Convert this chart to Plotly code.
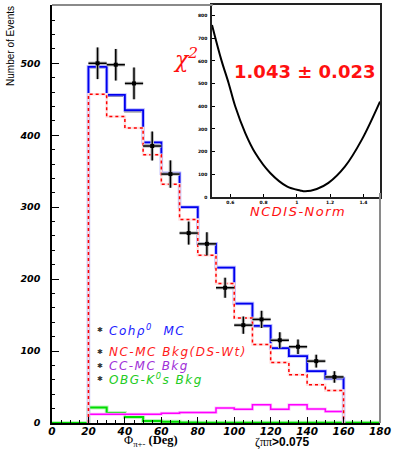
import plotly.graph_objects as go

# ---------------- data ----------------
bin_edges = [20, 30, 40, 50, 60, 70, 80, 90, 100, 110, 120, 130, 140, 150, 160]
bin_centers = [25, 35, 45, 55, 65, 75, 85, 95, 105, 115, 125, 135, 145, 155]
bin_halfwidth = [5] * 14

data_counts = [500, 498, 472, 385, 346, 264, 249, 188, 136, 144, 115, 106, 86, 64]
data_errors = [22, 22, 22, 20, 19, 16, 16, 14, 12, 12, 11, 10, 9, 8]

coh_total = [495, 456, 435, 390, 347, 300, 249, 216, 166, 135, 104, 93, 72, 62]
mc_sum = [494, 454, 433, 388, 346, 299, 249, 215, 166, 134, 104, 93, 72, 62]
nc_bkg = [457, 426, 410, 373, 332, 283, 233, 194, 146, 109, 84, 67, 53, 45]
cc_bkg = [12, 12, 12, 12, 13.5, 14.5, 14.5, 21, 19, 25.5, 19, 25.5, 19.5, 16]

green_edges = [0, 10, 20, 30, 40, 50, 60, 70, 80, 90, 100, 110, 120, 130, 140, 150, 160, 170, 180]
obg_bkg = [0, 0, 21.5, 14, 8.4, 2.8, 1.6, 0.8, 0.5, 0.5, 0.5, 0.5, 0.5, 0.5, 0.5, 0.5, 0.3, 0.3]

chi2_x = [0.49, 0.546, 0.59, 0.63, 0.69, 0.75, 0.84, 0.94, 1.02, 1.05, 1.12, 1.19, 1.29, 1.39, 1.5]
chi2_y = [759, 605, 502, 399, 282, 194, 106, 47, 29, 25, 35, 62, 135, 252, 421]

y_ticks = [0, 100, 200, 300, 400, 500]
x_ticks = [0, 20, 40, 60, 80, 100, 120, 140, 160, 180]
inset_x_ticks = [0.6, 0.8, 1.0, 1.2, 1.4]
inset_x_labels = ["0.6", "0.8", "1", "1.2", "1.4"]
inset_y_ticks = [0, 100, 200, 300, 400, 500, 600, 700, 800]


def step(edges, vals):
    xs = [edges[0]] + list(edges[:-1]) + [edges[-1]]
    ys = [0] + list(vals) + [0]
    return xs, ys


fig = go.Figure()


def hist(edges, vals, color, width, dash="solid", halo=None, halo_w=0):
    xs, ys = step(edges, vals)
    if halo:
        fig.add_trace(go.Scatter(x=xs, y=ys, mode="lines", line_shape="hv",
                                 line=dict(color=halo, width=halo_w),
                                 showlegend=False, hoverinfo="skip"))
    fig.add_trace(go.Scatter(x=xs, y=ys, mode="lines", line_shape="hv",
                             line=dict(color=color, width=width, dash=dash),
                             showlegend=False))


hist(green_edges, obg_bkg, "#00dd00", 2, halo="#bff5bf", halo_w=4)
hist(bin_edges, cc_bkg, "#ff00ff", 1.5, halo="#ffc4ff", halo_w=3)
hist(bin_edges, mc_sum, "#000000", 1.5)
hist(bin_edges, coh_total, "#0000ee", 1.8, halo="#b8b8ff", halo_w=3.5)
hist(bin_edges, nc_bkg, "#ff0000", 1.5, dash="dot", halo="#ffe0e0", halo_w=2.5)

# data points with error bars (halo + core)
fig.add_trace(go.Scatter(
    x=bin_centers, y=data_counts, mode="markers",
    marker=dict(size=1, color="rgba(0,0,0,0)"),
    error_x=dict(type="data", array=bin_halfwidth, color="#c0c0c0", thickness=3.5, width=0),
    error_y=dict(type="data", array=data_errors, color="#c0c0c0", thickness=3.5, width=0),
    showlegend=False, hoverinfo="skip"))
fig.add_trace(go.Scatter(
    x=bin_centers, y=data_counts, mode="markers",
    marker=dict(size=4, color="black", symbol="square"),
    error_x=dict(type="data", array=bin_halfwidth, color="black", thickness=1.5, width=0),
    error_y=dict(type="data", array=data_errors, color="black", thickness=1.5, width=0),
    showlegend=False))

# inset chi2 curve
fig.add_trace(go.Scatter(x=chi2_x, y=chi2_y, mode="lines", line_shape="spline",
                         line=dict(color="black", width=2), xaxis="x2", yaxis="y2",
                         showlegend=False))

tickfont_main_x = dict(family="DejaVu Sans", size=10.5, color="black", weight="bold", style="italic")
tickfont_main_y = dict(family="DejaVu Sans", size=9.5, color="black", weight="bold", style="italic")
tickfont_inset = dict(family="DejaVu Sans", size=4.5, color="black", weight="bold")

fig.update_layout(
    width=393, height=449,
    margin=dict(l=52, r=13, t=5, b=26, autoexpand=False),
    paper_bgcolor="white", plot_bgcolor="white",
    showlegend=False,
    xaxis=dict(range=[0, 180], tickvals=x_ticks, ticks="inside", ticklen=6, tickwidth=1,
               tickcolor="black", showline=True, linecolor="black", linewidth=1.5,
               showgrid=False, zeroline=False, tickfont=tickfont_main_x, automargin=False,
               ticklabelstandoff=-2,
               minor=dict(dtick=5, tick0=0, ticks="inside", ticklen=3, tickcolor="black"),
               domain=[0, 1], anchor="y"),
    yaxis=dict(range=[0, 581], tickvals=y_ticks, ticks="inside", ticklen=7, tickwidth=1,
               tickcolor="black", showline=True, linecolor="black", linewidth=1.5,
               showgrid=False, zeroline=False, tickfont=tickfont_main_y, automargin=False,
               ticklabelstandoff=8,
               minor=dict(dtick=20, tick0=0, ticks="inside", ticklen=3.5, tickcolor="black"),
               domain=[0, 1], anchor="x"),
    xaxis2=dict(range=[0.49, 1.5], tickvals=inset_x_ticks, ticktext=inset_x_labels,
                ticks="inside", ticklen=3, tickcolor="black", showline=True, mirror=True,
                linecolor="#222222", linewidth=1.5, showgrid=False, zeroline=False,
                tickfont=tickfont_inset, domain=[0.4878, 1.0], anchor="y2",
                automargin=False, ticklabelstandoff=0),
    yaxis2=dict(range=[0, 847], tickvals=inset_y_ticks, ticks="inside", ticklen=3,
                tickcolor="black", showline=True, mirror=True, linecolor="#222222",
                linewidth=1.5, showgrid=False, zeroline=False, tickfont=tickfont_inset,
                domain=[0.5407, 1.0], anchor="x2", automargin=False, ticklabelstandoff=2),
)

# frame lines of main pad (gray top and right)
fig.add_shape(type="line", xref="paper", yref="paper", x0=0, x1=0.49, y0=1, y1=1,
              line=dict(color="#8a8a8a", width=2))
fig.add_shape(type="line", xref="paper", yref="paper", x0=1, x1=1, y0=0, y1=0.55,
              line=dict(color="#8a8a8a", width=2))


def note(text, x, y, font, xanchor="center", yanchor="middle", **kw):
    return dict(text=text, x=x, y=y, xref="paper", yref="paper", showarrow=False,
                xanchor=xanchor, yanchor=yanchor, font=font, **kw)


ann = []
ann.append(note("Number of Events", -0.125, 0.902,
                dict(family="Liberation Sans", size=10, color="black"), textangle=-90))
ann.append(note("Φ<sub>π+-</sub> <b>(Deg)</b>", 0.302, -0.044,
                dict(family="Liberation Serif", size=12.5, color="black")))
ann.append(note("<span style='font-family:Liberation Serif'>ζππ</span><b>>0.075</b>", 0.70, -0.045,
                dict(family="Liberation Sans", size=12, color="black")))
ann.append(note("χ<sup>2</sup>", 0.407, 0.873,
                dict(family="DejaVu Serif", size=22, color="#ff1010", style="italic")))
ann.append(note("1.043 ± 0.023", 0.770, 0.842,
                dict(family="DejaVu Sans", size=18, color="#ff1010", weight="bold")))
ann.append(note("<span style='letter-spacing:1.5px'>NCDIS-Norm</span>", 0.7515, 0.505,
                dict(family="DejaVu Sans", size=13, color="#ff1010", style="italic")))

legend_rows = [
    ("Cohρ<sup>0</sup>&nbsp; MC", "#1a1aff", 0.2232),
    ("NC-MC Bkg(DS-Wt)", "#ff1a1a", 0.1699),
    ("CC-MC Bkg", "#a030d8", 0.1356),
    ("OBG-K<sup>0</sup>s Bkg", "#22cc22", 0.1053),
]
for txt, col, yy in legend_rows:
    ann.append(note("✱", 0.145, yy, dict(family="DejaVu Sans", size=7, color="#333333")))
    ann.append(note("<span style='letter-spacing:1.5px'>" + txt + "</span>", 0.1677, yy,
                    dict(family="DejaVu Sans", size=12, color=col, style="italic"),
                    xanchor="left"))

fig.update_layout(annotations=ann)

fig.write_html("out.html", config={"displayModeBar": False},
               post_script="document.body.style.margin='0';document.body.style.overflow='hidden';")
